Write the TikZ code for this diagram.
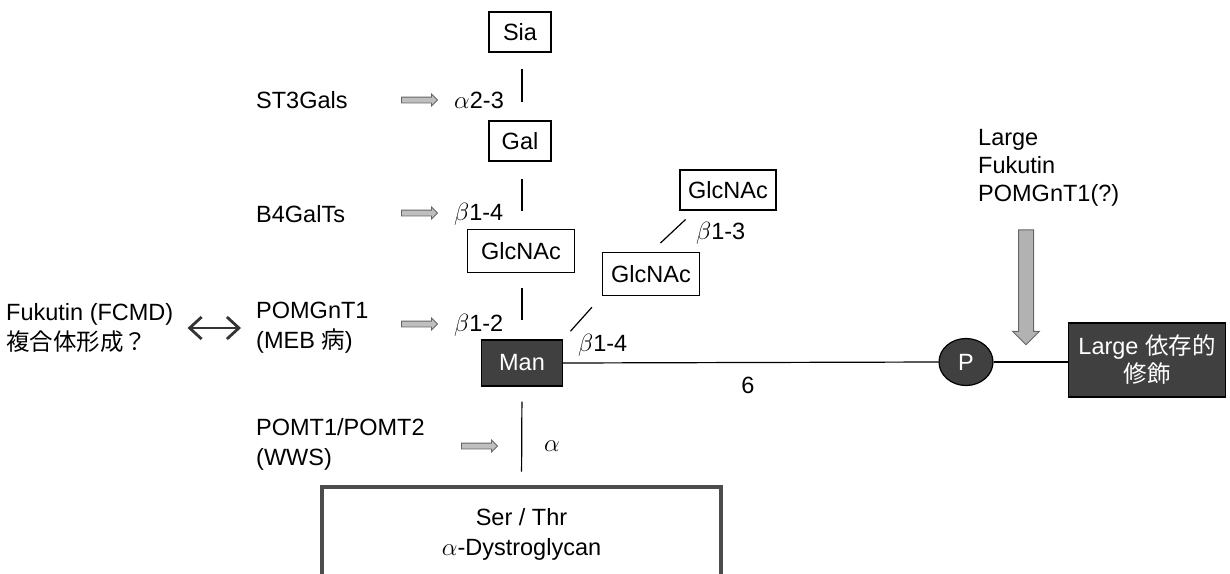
\documentclass[tikz,border=0pt]{standalone}
\usepackage{fontspec}
\setmainfont{Liberation Sans}
\newfontfamily\cjk{Noto Sans CJK JP}
\usetikzlibrary{shapes.geometric,shapes.arrows,arrows.meta}
\begin{document}
\begin{tikzpicture}[x=1pt,y=-1pt,
  txt/.style={font=\fontsize{23.5}{30}\selectfont},
  sugar/.style={txt, draw, line width=1.2pt, minimum height=40pt, inner sep=0pt},
  darkbox/.style={txt, draw, fill=black!75, text=white, line width=1.2pt, inner sep=0pt},
  lbl/.style={txt, inner sep=0pt, anchor=west, align=left},
  link/.style={line width=1.2pt},
  enz/.style={single arrow, draw=black!60, fill=black!25, line width=0.8pt,
    minimum height=36pt, single arrow head extend=3pt, inner sep=2.5pt},
  bigarrow/.style={single arrow, draw=black!60, fill=black!30, line width=1pt,
    minimum height=115pt, single arrow head extend=6pt,
    inner sep=7pt, shape border rotate=270}
]
\useasboundingbox (0,0) rectangle (1230,573);

% sugars
\node[sugar, minimum width=62pt] (sia) at (520,32) {Sia};
\node[sugar, minimum width=62pt] (gal) at (520,141) {Gal};
\node[sugar, minimum width=107pt, minimum height=43pt] (g1) at (521,251) {GlcNAc};
\node[sugar, minimum width=97pt, minimum height=43pt] (g2) at (651,274) {GlcNAc};
\node[sugar, minimum width=96pt] (g3) at (728,190) {GlcNAc};
\node[darkbox, minimum width=81pt, minimum height=46pt] (man) at (522,363) {Man};
\node[darkbox, ellipse, minimum width=54pt, minimum height=47pt] (p) at (966,362) {P};
\node[darkbox, minimum width=157pt, minimum height=74pt, align=center,
  font=\fontsize{23.5}{28}\selectfont] (large) at (1147,360) {Large {\cjk 依存的}\\{\cjk 修飾}};
\node[txt, draw=black!70, line width=4pt, minimum width=399pt, minimum height=95pt,
  align=center, inner sep=0pt] (ser) at (521.5,534) {Ser / Thr\\$\alpha$-Dystroglycan};

% links
\draw[link, shorten <=16pt, shorten >=18pt] ([xshift=2pt]sia.south) -- ([xshift=2pt]gal.north);
\draw[link, shorten <=17pt, shorten >=18pt] ([xshift=2pt]gal.south) -- ([xshift=1pt]g1.north);
\draw[link, shorten <=15pt, shorten >=19pt] ([xshift=1pt]g1.south) -- (man.north);
\draw[link, shorten <=15pt, shorten >=13pt] (man.south) -- (ser.north);
\draw[link, shorten <=11pt, shorten >=15pt] (man.north east) -- (g2.south west);
\draw[link, shorten <=13pt, shorten >=13pt] (g2.north) -- ([xshift=-33pt]g3.south);
\draw[link] (man.east) -- (p.west);
\draw[link] (p.east) -- (p.east -| large.west);

% link labels
\node[lbl] (l23) at (454,100) {$\alpha$2-3};
\node[lbl] (l14a) at (454,214) {$\beta$1-4};
\node[lbl] (l12) at (454,325) {$\beta$1-2};
\node[lbl] (l13) at (696,233) {$\beta$1-3};
\node[lbl] (l14b) at (578,345) {$\beta$1-4};
\node[txt, inner sep=0pt] (l6) at (748,385) {6};
\node[txt, inner sep=0pt] (la) at (552,446) {$\alpha$};

% enzymes
\node[lbl] (st3) at (256,100) {ST3Gals};
\node[lbl] (b4) at (256,214) {B4GalTs};
\node[lbl] (pom) at (256,328) {POMGnT1\\(MEB {\cjk 病})};
\node[lbl] (pomt) at (256,444) {POMT1/POMT2\\(WWS)};
\node[lbl] (fuk) at (6,328) {Fukutin (FCMD)\\{\cjk 複合体形成？}};
\node[lbl, font=\fontsize{23.5}{28}\selectfont] (lg) at (978,168) {Large\\Fukutin\\POMGnT1(?)};

\node[enz] (e1) at (418,100) {};
\node[enz] (e2) at (418,213) {};
\node[enz] (e3) at (418,324) {};
\node[enz] (e4) at (478,446) {};

\draw[line width=2.8pt, black!80, {Straight Barb[length=12pt,width=22pt]}-{Straight Barb[length=12pt,width=22pt]},
  shorten <=14pt, shorten >=15pt] (fuk.east) -- (pom.west);

\node[bigarrow] (ba) at (1026,283.5) {};
\end{tikzpicture}
\end{document}
